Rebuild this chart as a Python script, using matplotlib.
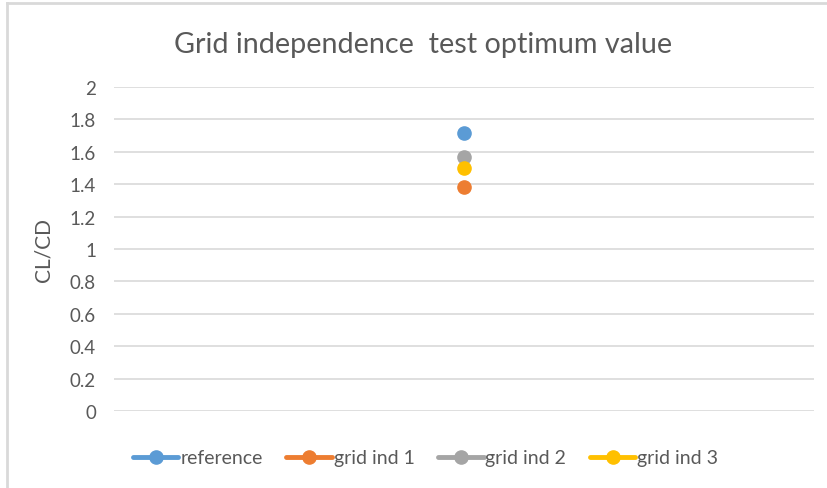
import matplotlib
matplotlib.use("Agg")
import matplotlib.pyplot as plt
from matplotlib.lines import Line2D

categories = [1]
series_names = ["reference", "grid ind 1", "grid ind 2", "grid ind 3"]
series_values = [[1.715], [1.38], [1.567], [1.50]]
colors = ["#5b9bd5", "#ed7d31", "#a5a5a5", "#ffc000"]
yticks = [0, 0.2, 0.4, 0.6, 0.8, 1, 1.2, 1.4, 1.6, 1.8, 2]
ytick_labels = ["0", "0.2", "0.4", "0.6", "0.8", "1", "1.2", "1.4", "1.6", "1.8", "2"]

plt.rcParams['font.family'] = ['Lato', 'DejaVu Sans']
W, H = 827, 489
fig = plt.figure(figsize=(W/100, H/100), dpi=100)
ax = fig.add_axes([114/W, 1-412/H, 700/W, 324/H])

for name, vals, c in zip(series_names, series_values, colors):
    ax.plot(categories, vals, marker='o', linestyle='none', color=c,
            markersize=9.5, label=name, zorder=3)

ax.set_xlim(0.5, 1.5)
ax.set_ylim(0, 2)
ax.set_yticks(yticks)
ax.set_yticklabels(ytick_labels)
ax.set_xticks([])
ax.grid(axis='y', color='#d9d9d9', linewidth=1.2)
ax.set_axisbelow(True)
for s in ax.spines.values():
    s.set_visible(False)
ax.tick_params(axis='y', length=0, pad=13, labelsize=13.5, labelcolor='#595959')

ax.set_ylabel("CL/CD", fontsize=15, color='#595959', labelpad=12)
fig.text(0.5*(174+672)/W, 1-45/H, "Grid independence  test optimum value",
         ha='center', va='center', fontsize=20.7, color='#595959')

handles = [Line2D([0], [0], color=c, lw=3.5, marker='o', markersize=9.5, solid_capstyle='round')
           for c in colors]
fig.legend(handles, series_names, loc='center', bbox_to_anchor=(425.5/W, 1-459/H),
           ncol=4, frameon=False, fontsize=14, labelcolor='#595959',
           handlelength=2.35, handletextpad=0.1, columnspacing=1.2)

# chart border (top and left visible)
fig.add_artist(Line2D([7/W, 7/W], [0, 1-4/H], color='#d9d9d9', lw=2, transform=fig.transFigure))
fig.add_artist(Line2D([7/W, 1], [1-4/H, 1-4/H], color='#d9d9d9', lw=2, transform=fig.transFigure))

fig.savefig("out.png", dpi=100, facecolor='white')
